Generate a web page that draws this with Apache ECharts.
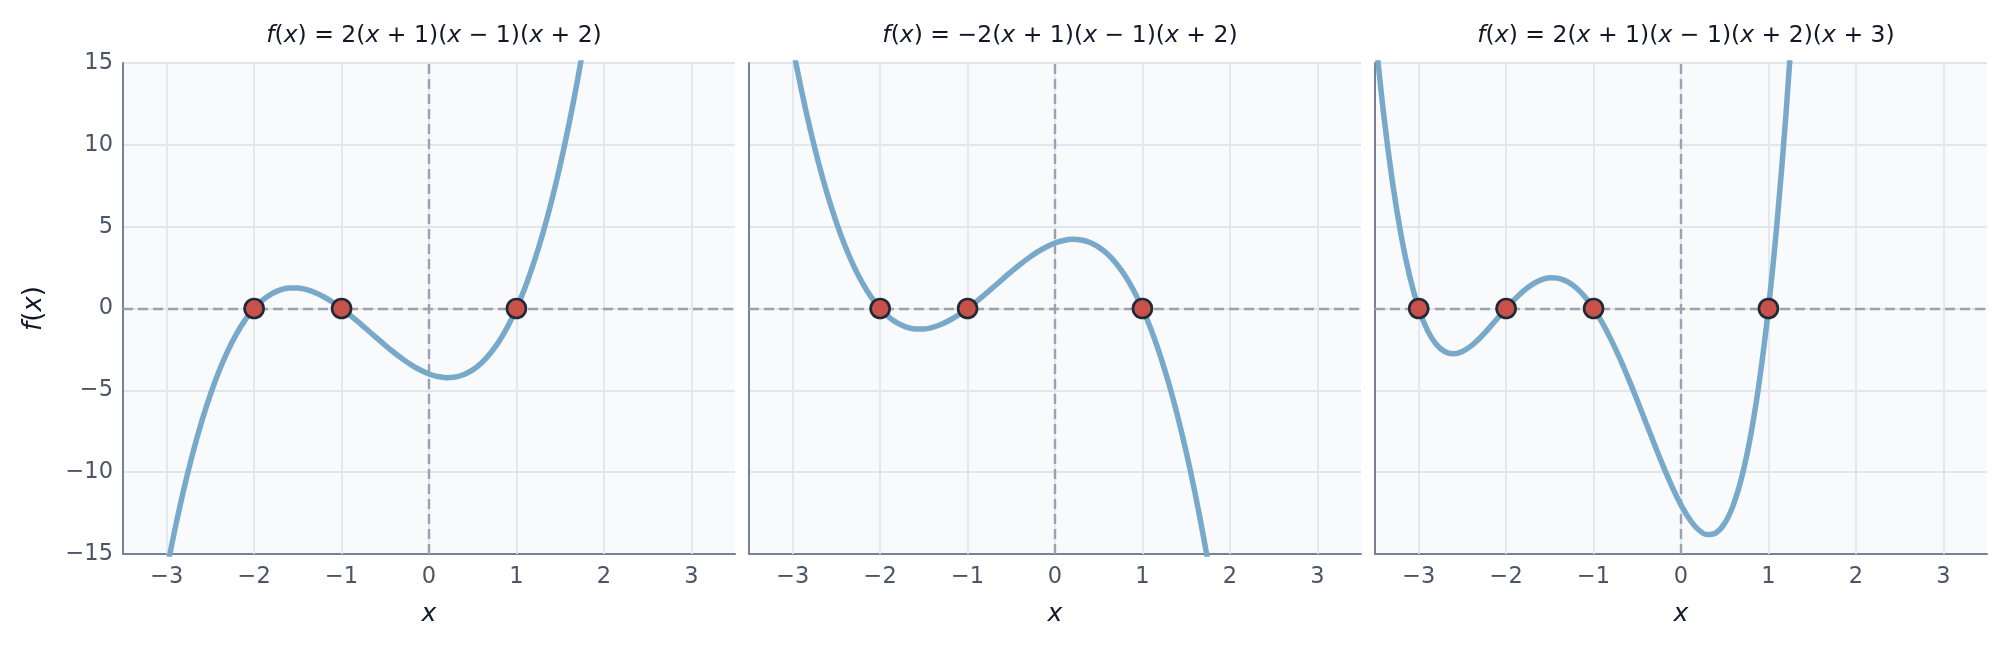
<!DOCTYPE html>
<html>
<head>
<meta charset="utf-8">
<script src="https://cdn.jsdelivr.net/npm/echarts@6/dist/echarts.min.js"></script>
<style>
html,body{margin:0;padding:0;background:#ffffff;}
#chart{width:2007px;height:648px;}
</style>
</head>
<body>
<div id="chart"></div>
<script>
// ---- data ----
const xTicks = [-3, -2, -1, 0, 1, 2, 3];
const yTicks = [-15, -10, -5, 0, 5, 10, 15];

// sample x positions (panels 1 and 2)
const xs12 = [-3.1,-3.0,-2.9,-2.8,-2.7,-2.6,-2.5,-2.4,-2.3,-2.2,-2.1,-2.0,-1.9,-1.8,-1.7,-1.6,-1.5,-1.4,-1.3,-1.2,-1.1,-1.0,-0.9,-0.8,-0.7,-0.6,-0.5,-0.4,-0.3,-0.2,-0.1,0.0,0.1,0.2,0.3,0.4,0.5,0.6,0.7,0.8,0.9,1.0,1.1,1.2,1.3,1.4,1.5,1.6,1.7,1.8];
// panel 1 curve values
const y1 = [-18.942,-16,-13.338,-10.944,-8.806,-6.912,-5.25,-3.808,-2.574,-1.536,-0.682,0,0.522,0.896,1.134,1.248,1.25,1.152,0.966,0.704,0.378,0,-0.418,-0.864,-1.326,-1.792,-2.25,-2.688,-3.094,-3.456,-3.762,-4,-4.158,-4.224,-4.186,-4.032,-3.75,-3.328,-2.754,-2.016,-1.102,0,1.302,2.816,4.554,6.528,8.75,11.232,13.986,17.024];
// panel 2 curve values
const y2 = [18.942,16,13.338,10.944,8.806,6.912,5.25,3.808,2.574,1.536,0.682,0,-0.522,-0.896,-1.134,-1.248,-1.25,-1.152,-0.966,-0.704,-0.378,0,0.418,0.864,1.326,1.792,2.25,2.688,3.094,3.456,3.762,4,4.158,4.224,4.186,4.032,3.75,3.328,2.754,2.016,1.102,0,-1.302,-2.816,-4.554,-6.528,-8.75,-11.232,-13.986,-17.024];
// sample x positions (panel 3)
const xs3 = [-3.5,-3.4,-3.3,-3.2,-3.1,-3.0,-2.9,-2.8,-2.7,-2.6,-2.5,-2.4,-2.3,-2.2,-2.1,-2.0,-1.9,-1.8,-1.7,-1.6,-1.5,-1.4,-1.3,-1.2,-1.1,-1.0,-0.9,-0.8,-0.7,-0.6,-0.5,-0.4,-0.3,-0.2,-0.1,0.0,0.1,0.2,0.3,0.4,0.5,0.6,0.7,0.8,0.9,1.0,1.1,1.2,1.3];
// panel 3 curve values
const y3 = [16.875,11.827,7.714,4.435,1.894,0,-1.334,-2.189,-2.642,-2.765,-2.625,-2.285,-1.802,-1.229,-0.614,0,0.574,1.075,1.474,1.747,1.875,1.843,1.642,1.267,0.718,0,-0.878,-1.901,-3.050,-4.301,-5.625,-6.989,-8.354,-9.677,-10.910,-12,-12.890,-13.517,-13.814,-13.709,-13.125,-11.981,-10.190,-7.661,-4.298,0,5.338,11.827,19.582];

const roots1 = [-2, -1, 1];
const roots2 = [-2, -1, 1];
const roots3 = [-3, -2, -1, 1];

const titles = [
  '{i|f}({i|x}) = 2({i|x} + 1)({i|x} − 1)({i|x} + 2)',
  '{i|f}({i|x}) = −2({i|x} + 1)({i|x} − 1)({i|x} + 2)',
  '{i|f}({i|x}) = 2({i|x} + 1)({i|x} − 1)({i|x} + 2)({i|x} + 3)'
];

// ---- styling / layout ----
const FONT = 'DejaVu Sans';
const AXIS = '#778293';
const TICKC = '#4a5568';
const GRIDC = '#e0e6ee';
const ZEROC = '#98a2b0';
const CURVE = '#79a9ca';
const MFILL = '#c8524a';
const MEDGE = '#1f2937';
const TITLEC = '#111827';
const panelLeft = [123, 749, 1375];
const panelW = 612, panelTop = 63, panelH = 491;

const minus = v => String(v).replace('-', '\u2212');
const zip = (xs, ys) => xs.map((x, i) => [x, ys[i]]);
const curves = [zip(xs12, y1), zip(xs12, y2), zip(xs3, y3)];
const roots = [roots1, roots2, roots3];

const grid = [], xAxis = [], yAxis = [], series = [], title = [];
for (let i = 0; i < 3; i++) {
  grid.push({left: panelLeft[i], top: panelTop, width: panelW, height: panelH,
    show: true, backgroundColor: '#f8fafc', borderWidth: 0, containLabel: false});
  title.push({
    text: titles[i], left: panelLeft[i] + panelW / 2, top: 19, textAlign: 'center',
    textStyle: {fontFamily: FONT, fontSize: 23.5, fontWeight: 'normal', color: TITLEC,
      rich: {i: {fontFamily: FONT, fontStyle: 'italic', fontSize: 23.5, color: TITLEC}}}
  });
  xAxis.push({
    type: 'value', gridIndex: i, min: -3.5, max: 3.5,
    name: '{i|x}', nameLocation: 'middle', nameGap: 48,
    nameTextStyle: {rich: {i: {fontFamily: FONT, fontStyle: 'italic', fontSize: 25, color: TITLEC}}},
    axisLine: {show: true, onZero: false, lineStyle: {color: AXIS, width: 2}},
    axisTick: {show: false},
    splitLine: {show: false},
    axisLabel: {customValues: xTicks, margin: 12, fontFamily: FONT, fontSize: 22.5, color: TICKC,
      formatter: v => minus(v)}
  });
  yAxis.push({
    type: 'value', gridIndex: i, min: -15, max: 15, interval: 5,
    name: i === 0 ? '{i|f}({i|x})' : '', nameLocation: 'middle', nameGap: 76, nameRotate: 90,
    nameTextStyle: {rich: {i: {fontFamily: FONT, fontStyle: 'italic', fontSize: 26, color: TITLEC}},
      fontFamily: FONT, fontSize: 26, color: TITLEC},
    axisLine: {show: true, onZero: false, lineStyle: {color: AXIS, width: 2}},
    axisTick: {show: false},
    splitLine: {show: true, lineStyle: {color: GRIDC, width: 1.8}},
    axisLabel: {show: i === 0, margin: 10, fontFamily: FONT, fontSize: 22.5, color: TICKC,
      formatter: v => minus(v)}
  });
  // helper series: vertical grid lines and dashed zero lines
  series.push({
    type: 'line', xAxisIndex: i, yAxisIndex: i, z: 1, silent: true,
    data: roots[i].map(r => [r, 0]), showSymbol: false, lineStyle: {opacity: 0},
    markLine: {
      silent: true, symbol: 'none', animation: false, z: 1,
      label: {show: false},
      data: xTicks.map(t => ({xAxis: t, lineStyle: {color: GRIDC, width: 1.8, type: 'solid'}}))
        .concat([
          {xAxis: 0, lineStyle: {color: ZEROC, width: 2.4, type: [10, 5]}},
          {yAxis: 0, lineStyle: {color: ZEROC, width: 2.4, type: [10, 5]}}
        ])
    }
  });
  series.push({
    type: 'line', xAxisIndex: i, yAxisIndex: i, z: 3, data: curves[i],
    smooth: 0.3, showSymbol: false, clip: true, animation: false,
    lineStyle: {color: CURVE, width: 5.5}
  });
  series.push({
    type: 'scatter', xAxisIndex: i, yAxisIndex: i, z: 4, data: roots[i].map(r => [r, 0]),
    symbolSize: 19, animation: false,
    itemStyle: {color: MFILL, borderColor: MEDGE, borderWidth: 2.6, opacity: 1}
  });
}

const chart = echarts.init(document.getElementById('chart'), null, {renderer: 'canvas'});
chart.setOption({backgroundColor: '#ffffff', animation: false, title, grid, xAxis, yAxis, series});
</script>
</body>
</html>
